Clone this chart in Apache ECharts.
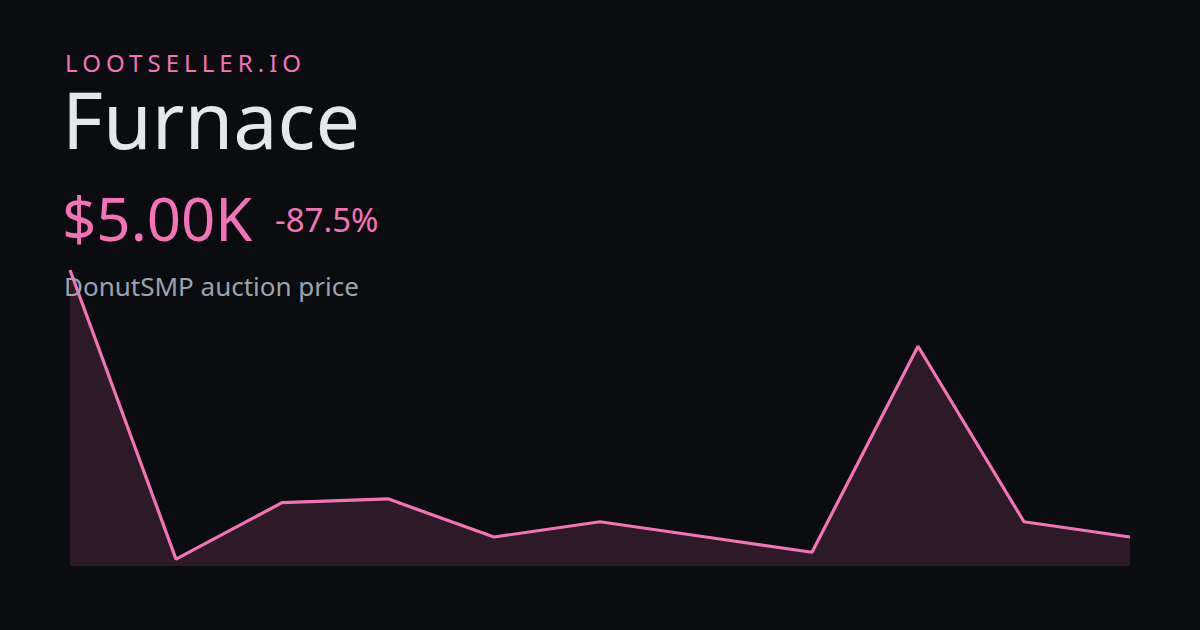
<!DOCTYPE html>
<html>
<head>
<meta charset="utf-8">
<script src="https://cdn.jsdelivr.net/npm/echarts@6/dist/echarts.min.js"></script>
<style>
html,body{margin:0;padding:0;background:#0b0c0f;}
#c{width:1200px;height:630px;}
</style>
</head>
<body>
<div id="c"></div>
<script>
const brand = 'LOOTSELLER.IO';
const itemName = 'Furnace';
const priceLabel = '$5.00K';
const changeLabel = '-87.5%';
const subtitle = 'DonutSMP auction price';
const categories = ['1','2','3','4','5','6','7','8','9','10','11'];
const prices = [40000, 2100, 9500, 10000, 5000, 7000, 5000, 3000, 30000, 7000, 5000];

const pink = '#f472b6';
const font = '"Noto Sans", "Open Sans", sans-serif';
const chart = echarts.init(document.getElementById('c'), null, {renderer: 'svg'});
chart.setOption({
  backgroundColor: '#0b0c0f',
  animation: false,
  grid: {left: 70, right: 70, top: 270, bottom: 64},
  xAxis: {type: 'category', data: categories, boundaryGap: false, show: false},
  yAxis: {type: 'value', min: 1200, max: 40000, show: false},
  series: [{
    type: 'line',
    data: prices,
    symbol: 'none',
    lineStyle: {color: pink, width: 3.2},
    areaStyle: {color: 'rgba(244,114,182,0.21)', origin: 'start'},
    z: 1
  }],
  graphic: [
    {type: 'text', left: 65, top: 50, z: 10, style: {text: brand, font: '400 24px ' + font, fill: pink}},
    {type: 'text', left: 62, top: 79, z: 10, style: {text: itemName, font: '400 79px ' + font, fill: '#e5e7eb'}},
    {type: 'text', left: 62, top: 188, z: 10, style: {text: priceLabel, font: '400 60px ' + font, fill: pink}},
    {type: 'text', left: 275, top: 203, z: 10, style: {text: changeLabel, font: '400 33px ' + font, fill: pink}},
    {type: 'text', left: 64, top: 273, z: 10, style: {text: subtitle, font: '400 26px ' + font, fill: '#9ca3af'}}
  ]
});
// apply tracking to the brand label (letter-spaced wordmark)
document.querySelectorAll('#c svg text').forEach(function (t) {
  if (t.textContent === brand) {
    t.setAttribute('letter-spacing', '5.05');
    t.style.letterSpacing = '5.05px';
  }
});
</script>
</body>
</html>
